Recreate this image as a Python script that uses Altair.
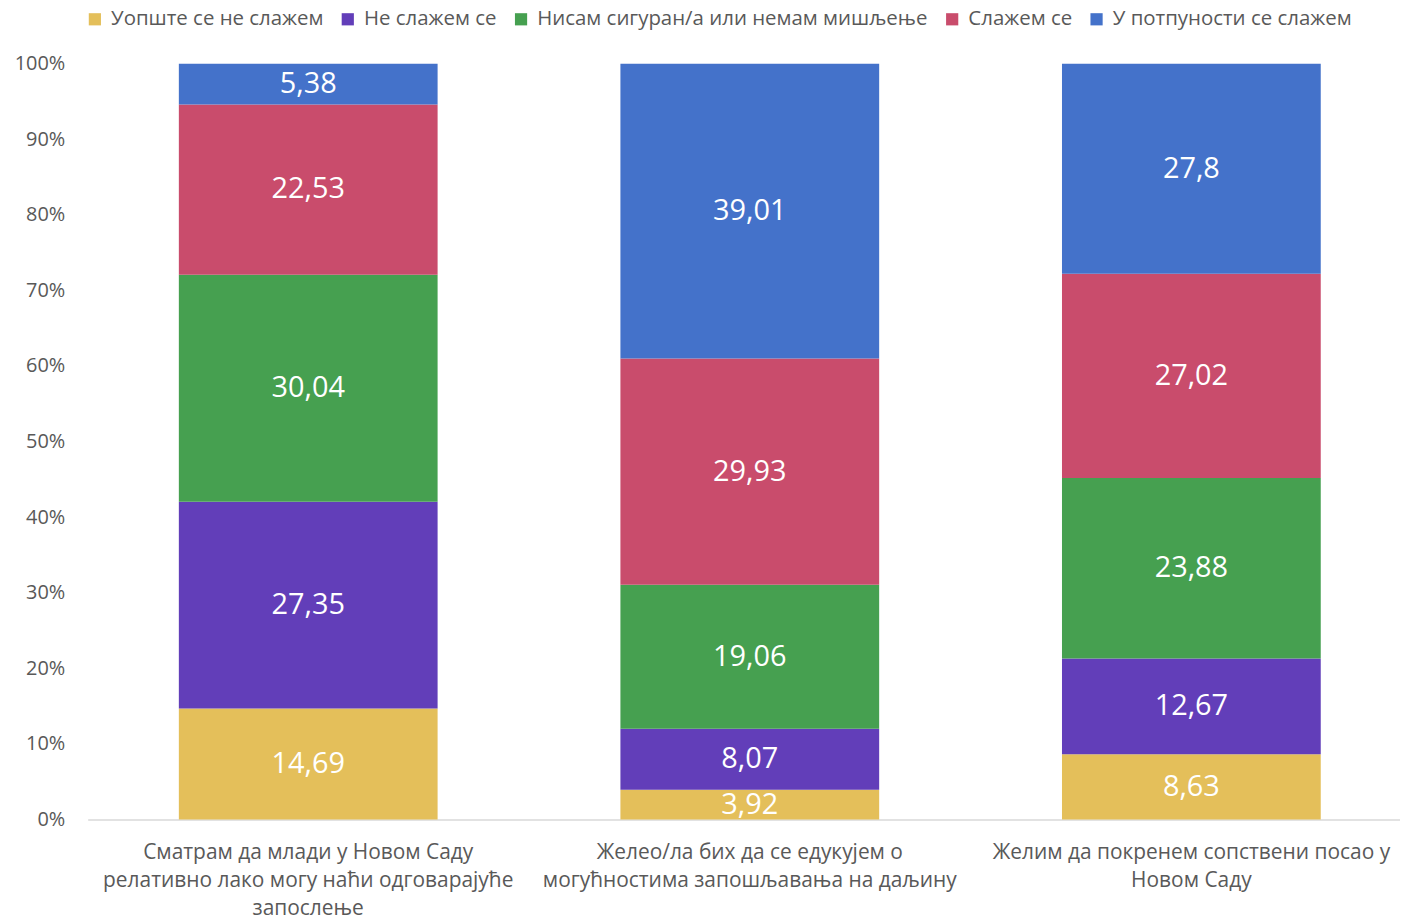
import altair as alt
import pandas as pd

categories = [
    "Сматрам да млади у Новом Саду\nрелативно лако могу наћи одговарајуће\nзапослење",
    "Желео/ла бих да се едукујем о\nмогућностима запошљавања на даљину",
    "Желим да покренем сопствени посао у\nНовом Саду",
]
series = [
    "Уопште се не слажем",
    "Не слажем се",
    "Нисам сигуран/а или немам мишљење",
    "Слажем се",
    "У потпуности се слажем",
]
colors = ["#E4BF5A", "#623EB9", "#46A050", "#C94C6C", "#4472CA"]

v_uopste = [14.69, 3.92, 8.63]
v_ne = [27.35, 8.07, 12.67]
v_nisam = [30.04, 19.06, 23.88]
v_slazem = [22.53, 29.93, 27.02]
v_potpuno = [5.38, 39.01, 27.8]

rows = []
for si, (s, vals) in enumerate(zip(series, [v_uopste, v_ne, v_nisam, v_slazem, v_potpuno])):
    for ci, c in enumerate(categories):
        rows.append({"cat": c, "series": s, "idx": si, "value": vals[ci]})
df = pd.DataFrame(rows)

FONT = "Open Sans"
GRAY = "#595959"

base = alt.Chart(df).transform_stack(
    stack="value", groupby=["cat"], as_=["y0", "y1"],
    sort=[alt.SortField("idx", order="ascending")], offset="normalize"
).transform_calculate(
    mid="(datum.y0 + datum.y1) / 2",
    lbl="replace(format(datum.value, '.2~f'), '.', ',')",
)

xenc = alt.X(
    "cat:N", sort=categories, title=None,
    scale=alt.Scale(paddingInner=0.414, paddingOuter=0.193, align=0.535),
    axis=alt.Axis(
        labelAngle=0, ticks=False, domainColor="#D9D9D9", domainWidth=1.5,
        labelFontSize=21, labelColor=GRAY, labelFont=FONT, labelPadding=22,
        labelLineHeight=28, labelLimit=600,
        labelExpr="split(datum.label, '\\n')",
    ),
)

bars = base.mark_bar().encode(
    x=xenc,
    y=alt.Y(
        "y0:Q", title=None, scale=alt.Scale(domain=[0, 1]),
        axis=alt.Axis(
            format="%", values=[i / 10 for i in range(11)], grid=False,
            domain=False, ticks=False, labelFontSize=20, labelColor=GRAY,
            labelFont=FONT, labelPadding=23,
        ),
    ),
    y2="y1:Q",
    color=alt.Color(
        "series:N", sort=series,
        scale=alt.Scale(domain=series, range=colors),
        legend=alt.Legend(
            title=None, orient="none", legendX=-3, legendY=-55,
            direction="horizontal", columns=5, symbolType="square",
            symbolSize=150, symbolStrokeWidth=0, labelFontSize=20.5,
            labelColor=GRAY, labelFont=FONT, columnPadding=14,
            labelOffset=6, labelLimit=600,
        ),
    ),
)

labels = base.mark_text(
    color="white", fontSize=29, font=FONT, baseline="middle", align="center"
).encode(
    x=alt.X("cat:N", sort=categories),
    y=alt.Y("mid:Q"),
    text="lbl:N",
)

chart = (bars + labels).properties(
    width=1318, height=759,
    autosize=alt.AutoSizeParams(type="none"),
    padding={"left": 80, "top": 54, "right": 0, "bottom": 100},
).configure_view(stroke=None)

chart.save("out.html", embed_options={"renderer": "svg", "actions": False})
